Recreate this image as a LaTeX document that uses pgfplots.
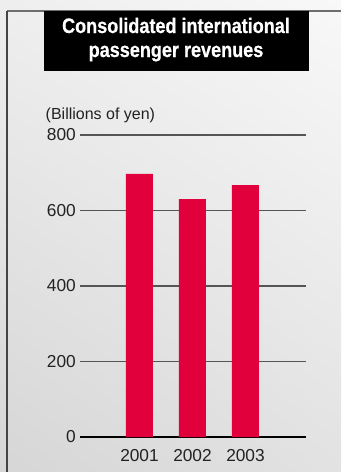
\documentclass[border=0pt]{standalone}
\usepackage{pgfplots}
\pgfplotsset{compat=1.18}
\usetikzlibrary{shadings}
\usepackage{fontspec}
\setmainfont{Liberation Sans}
\newfontfamily\titlefont[FakeStretch=0.86, FakeBold=0.6]{Liberation Sans}
\definecolor{barred}{HTML}{E1003C}
\definecolor{txt}{HTML}{222222}
\definecolor{gridc}{HTML}{555555}
\definecolor{bgll}{HTML}{D6D6D6}
\definecolor{bgur}{HTML}{F8F8F8}
\definecolor{bgul}{HTML}{EEEEEE}
\definecolor{bglr}{HTML}{E2E2E2}
\definecolor{topline}{HTML}{6E6E6E}
\definecolor{leftline}{HTML}{444444}
\begin{document}
\begin{tikzpicture}
\useasboundingbox (0,0) rectangle (341pt,-472pt);
\shade[lower left=bgll, upper right=bgur, upper left=bgul, lower right=bglr]
  (0,0) rectangle (341pt,-472pt);
\draw[line width=1.5pt, topline] (7pt,-11pt) -- (341pt,-11pt);
\draw[line width=2pt, leftline] (7pt,-11pt) -- (7pt,-472pt);
\fill[black] (44pt,-11pt) rectangle (309pt,-71pt);
\node[anchor=base, text=white, inner sep=0pt, font=\titlefont\bfseries\fontsize{21}{24}\selectfont] at (176pt,-33pt) {Consolidated international};
\node[anchor=base, text=white, inner sep=0pt, font=\titlefont\bfseries\fontsize{21}{24}\selectfont] at (176pt,-57pt) {passenger revenues};
\node[anchor=base west, text=txt, inner sep=0pt, font=\fontsize{16}{18}\selectfont] at (45.5pt,-119pt) {(Billions of yen)};
\begin{axis}[
  at={(80pt,-437pt)}, anchor=south west,
  scale only axis, width=226pt, height=302pt,
  xmin=-0.1226, xmax=4.1415, ymin=0, ymax=800,
  enlargelimits=false, clip=false,
  axis x line=bottom, axis y line=left,
  x axis line style={black, line width=2.5pt, -},
  y axis line style={draw=none},
  ytick={0,200,400,600,800},
  xtick={1,2,3}, xticklabels={2001,2002,2003},
  major tick length=0pt,
  ymajorgrids, grid style={gridc, line width=1.2pt},
  /pgf/number format/assume math mode=true,
  tick label style={text=txt, font=\fontsize{17.3}{19}\selectfont},
  yticklabel style={anchor=east, inner sep=0pt, xshift=-4pt},
  xticklabel style={anchor=base, inner sep=0pt, yshift=-24pt},
]
\addplot[ybar, bar width=27pt, bar shift=0pt, fill=barred, draw=none] coordinates {(1,697) (2,630) (3,667)};
\end{axis}
\end{tikzpicture}
\end{document}
